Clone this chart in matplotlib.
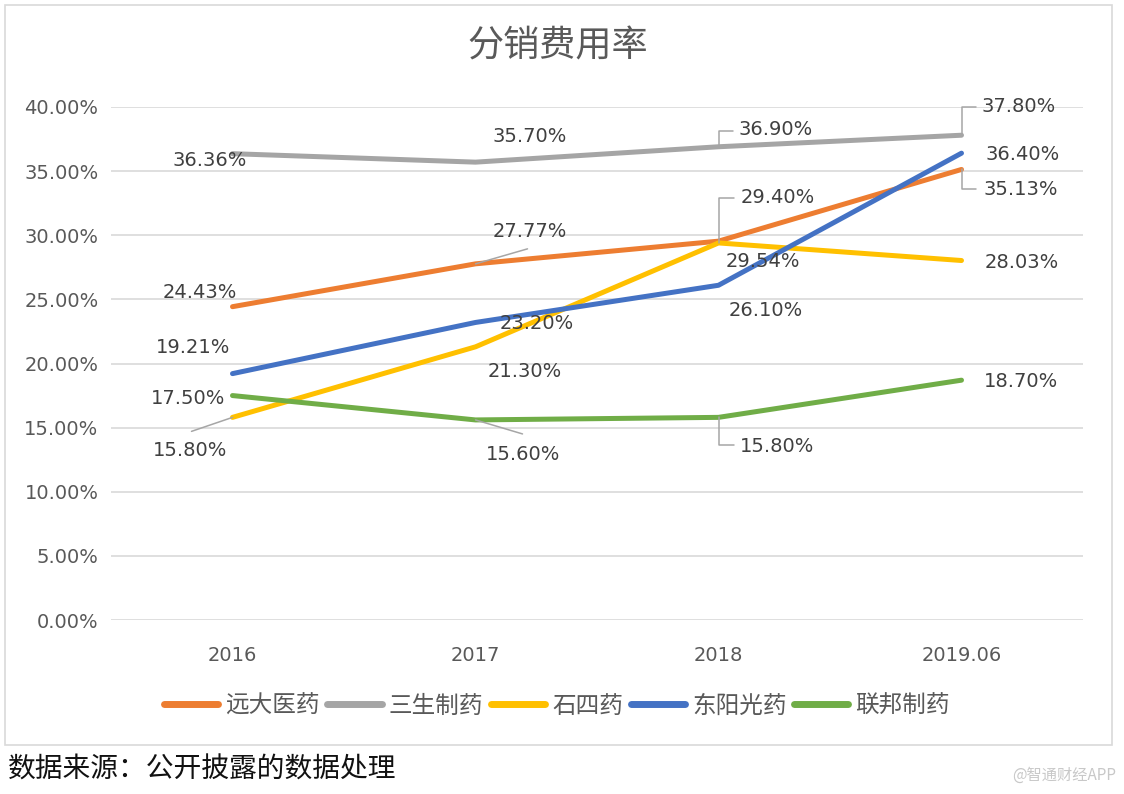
import matplotlib
matplotlib.use("Agg")
import matplotlib.pyplot as plt
from matplotlib.patches import Rectangle

plt.rcParams['font.family'] = ['DejaVu Sans', 'Noto Sans CJK SC']

categories = ["2016", "2017", "2018", "2019.06"]
series_names = ["远大医药", "三生制药", "石四药", "东阳光药", "联邦制药"]
yuanda = [24.43, 27.77, 29.54, 35.13]
sansheng = [36.36, 35.70, 36.90, 37.80]
shisi = [15.80, 21.30, 29.40, 28.03]
dongyang = [19.21, 23.20, 26.10, 36.40]
lianbang = [17.50, 15.60, 15.80, 18.70]
yticks = [0, 5, 10, 15, 20, 25, 30, 35, 40]

values = [yuanda, sansheng, shisi, dongyang, lianbang]
colors = ["#ED7D31", "#A5A5A5", "#FFC000", "#4472C4", "#70AD47"]

# label offsets (pixels) and leader style per series/point
label_offsets = [
    [(-33, 14), (54, 32), (44, -20), (59, -20)],
    [(-23, -7), (54, 26), (57, 17), (57, 29)],
    [(-42, -33), (49, -25), (59, 45), (60, -2)],
    [(-39, 26), (61, -1), (47, -25), (61, -1)],
    [(-44, -3), (48, -35), (59, -29), (60, -1)],
]
# leaders: None, ('line', end_dx, end_dy), ('elbow', end_dx, end_dy)
leaders = [
    [None, ('line', 52, 15), None, ('elbow', 14, -20)],
    [None, None, ('elbow', 14, 16), ('elbow', 14, 28)],
    [('line', -41, -14), None, ('elbow', 15, 45), None],
    [None, None, None, None],
    [None, ('line', 47, -14), ('elbow', 15, -28), None],
]

W, H = 1124, 794
fig = plt.figure(figsize=(W / 100, H / 100), dpi=100)
fig.patch.set_facecolor('white')

# outer chart border
fig.patches.append(Rectangle((5 / W, (H - 745) / H), 1107 / W, 740 / H,
                             transform=fig.transFigure, fill=False,
                             edgecolor='#D9D9D9', linewidth=1.2))

ax = fig.add_axes([111 / W, (H - 620) / H, (1083 - 111) / W, (620 - 107) / H])
x = list(range(len(categories)))
for name, vals, c in zip(series_names, values, colors):
    ax.plot(x, vals, color=c, lw=3.6, solid_capstyle='round',
            solid_joinstyle='round', label=name, zorder=3)

ax.set_xlim(-0.5, len(categories) - 0.5)
ax.set_ylim(0, 40)
ax.set_yticks(yticks)
ax.set_yticklabels([f"{v:.2f}%" for v in yticks])
ax.set_xticks(x)
ax.set_xticklabels(categories)
ax.tick_params(axis='both', length=0, labelsize=14, labelcolor='#595959')
ax.tick_params(axis='y', pad=9)
ax.tick_params(axis='x', pad=19)
ax.grid(axis='y', color='#D9D9D9', lw=1.2)
ax.set_axisbelow(True)
for s in ax.spines.values():
    s.set_visible(False)

for si, vals in enumerate(values):
    for pi, v in enumerate(vals):
        dx, dy = label_offsets[si][pi]
        ax.annotate(f"{v:.2f}%", xy=(x[pi], v), xytext=(dx, dy),
                    textcoords='offset pixels', ha='center', va='center',
                    fontsize=14, color='#404040', zorder=5)
        ld = leaders[si][pi]
        if ld is not None:
            kind, ex, ey = ld
            cs = 'arc3,rad=0' if kind == 'line' else 'angle,angleA=0,angleB=90,rad=0'
            ax.annotate('', xy=(x[pi], v), xytext=(ex, ey),
                        textcoords='offset pixels',
                        arrowprops=dict(arrowstyle='-', color='#A6A6A6', lw=1.1,
                                        shrinkA=0, shrinkB=0, connectionstyle=cs),
                        zorder=4)

fig.text(558 / W, (H - 47) / H, "分销费用率", ha='center', va='center',
         fontsize=26, color='#595959', family=['Noto Sans CJK SC', 'DejaVu Sans'])

leg = fig.legend(loc='center', bbox_to_anchor=(557 / W, (H - 706) / H), ncol=5,
                 frameon=False, handlelength=2.3, handletextpad=0.3,
                 columnspacing=0.32,
                 prop={'family': ['Noto Sans CJK SC', 'DejaVu Sans'], 'size': 17})
for t in leg.get_texts():
    t.set_color('#595959')
for l in leg.get_lines():
    l.set_linewidth(5)
    l.set_solid_capstyle('round')

fig.text(8 / W, (H - 770) / H, "数据来源：公开披露的数据处理", ha='left', va='center',
         fontsize=20, color='#111111', family=['Noto Sans CJK SC', 'DejaVu Sans'])
fig.text(1116 / W, (H - 775) / H, "@智通财经APP", ha='right', va='center',
         fontsize=11, color='#C8C8C8', family=['Noto Sans CJK SC', 'DejaVu Sans'])

fig.savefig("out.png", dpi=100)
